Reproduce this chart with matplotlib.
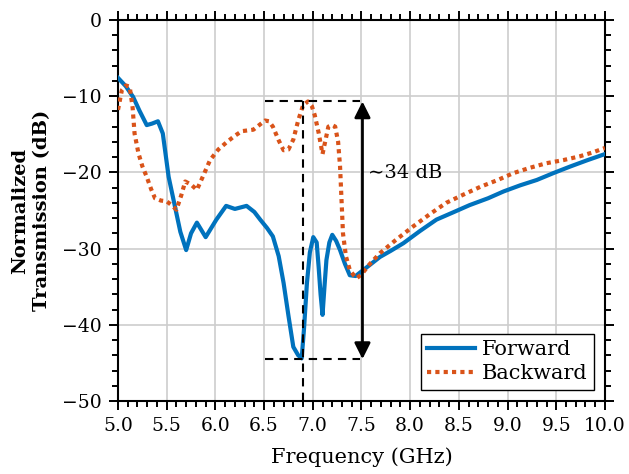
import numpy as np
import matplotlib
matplotlib.use("Agg")
import matplotlib.pyplot as plt
from matplotlib.ticker import MultipleLocator

# Forward transmission (GHz, dB)
fwd_f = [5.00, 5.08, 5.155, 5.22, 5.295, 5.35, 5.41, 5.46, 5.52, 5.585, 5.64, 5.70,
         5.75, 5.81, 5.90, 6.01, 6.11, 6.20, 6.32, 6.40, 6.46, 6.53, 6.59, 6.65, 6.70,
         6.75, 6.80, 6.85, 6.886, 6.91, 6.94, 6.97, 7.005, 7.04, 7.06, 7.08, 7.10, 7.12,
         7.14, 7.17, 7.20, 7.24, 7.28, 7.33, 7.38, 7.44, 7.52, 7.60, 7.69, 7.80, 7.93,
         8.10, 8.27, 8.45, 8.61, 8.80, 8.96, 9.13, 9.30, 9.47, 9.64, 9.82, 10.0]
fwd_db = [-7.6, -8.7, -10.1, -11.9, -13.8, -13.6, -13.3, -14.9, -20.6, -24.5, -27.8, -30.2,
          -28.0, -26.6, -28.5, -26.2, -24.4, -24.8, -24.4, -25.2, -26.2, -27.3, -28.4, -31.0, -34.5,
          -38.8, -42.9, -44.0, -44.4, -40.5, -34.5, -30.5, -28.5, -29.2, -32.4, -36.0, -38.7, -35.0,
          -31.5, -29.2, -28.2, -29.0, -30.2, -32.0, -33.5, -33.6, -32.8, -32.0, -31.1, -30.3, -29.3,
          -27.7, -26.2, -25.2, -24.3, -23.4, -22.5, -21.7, -21.0, -20.1, -19.25, -18.4, -17.6]

# Backward transmission (GHz, dB)
bwd_f = [5.00, 5.04, 5.08, 5.12, 5.15, 5.17, 5.21, 5.25, 5.295, 5.34, 5.38, 5.44, 5.50,
         5.55, 5.60, 5.65, 5.69, 5.75, 5.81, 5.88, 5.945, 6.03, 6.12, 6.20, 6.27, 6.39,
         6.45, 6.51, 6.55, 6.59, 6.65, 6.70, 6.75, 6.80, 6.85, 6.90, 6.95, 6.99, 7.02,
         7.06, 7.10, 7.13, 7.16, 7.20, 7.23, 7.26, 7.28, 7.31, 7.34, 7.38, 7.42, 7.45,
         7.50, 7.58, 7.69, 7.85, 8.03, 8.20, 8.37, 8.55, 8.72, 8.90, 9.06, 9.23, 9.40,
         9.57, 9.74, 9.87, 10.0]
bwd_db = [-11.8, -9.2, -8.6, -8.75, -11.5, -14.9, -17.5, -19.2, -20.6, -22.2, -23.4, -23.7, -23.8,
          -24.3, -24.9, -23.0, -21.2, -21.6, -22.3, -20.3, -18.4, -17.0, -16.0, -15.2, -14.6, -14.4,
          -13.8, -13.2, -13.3, -14.0, -15.8, -17.1, -17.0, -15.7, -13.2, -11.2, -10.7, -11.3, -12.5,
          -14.8, -17.6, -15.8, -14.0, -13.8, -14.0, -16.0, -19.25, -28.0, -31.0, -32.8, -33.5, -33.9,
          -33.4, -32.1, -30.6, -28.9, -27.1, -25.5, -24.0, -22.9, -21.9, -21.0, -20.1, -19.4, -18.8,
          -18.4, -17.9, -17.4, -16.8]

# annotation values
top_db = -10.7
bot_db = -44.5
box_f = [6.51, 7.48]
mark_f = 6.90
arrow_f = 7.51

plt.rcParams['font.family'] = ['DejaVu Serif']

fig = plt.figure(figsize=(6.29, 4.74), dpi=100)
ax = fig.add_axes([0.1876, 0.154, 0.7742, 0.804])

ax.plot(fwd_f, fwd_db, color='#0072BD', lw=3, label='Forward', zorder=3)
ax.plot(bwd_f, bwd_db, color='#D95319', lw=3, ls=(0, (1, 1)), dash_capstyle='butt',
        label='Backward', zorder=3)

# dashed guide lines
ax.plot(box_f, [top_db, top_db], color='k', lw=1.5, ls=(0, (4, 3)), zorder=4)
ax.plot(box_f, [bot_db, bot_db], color='k', lw=1.5, ls=(0, (4, 3)), zorder=4)
ax.plot([mark_f, mark_f], [top_db, -50], color='k', lw=1.5, ls=(0, (4, 3)), zorder=4)

ax.annotate('', xy=(arrow_f, top_db), xytext=(arrow_f, bot_db),
            arrowprops=dict(arrowstyle='<|-|>', color='k', lw=2, mutation_scale=24,
                            shrinkA=0, shrinkB=0), zorder=5)
ax.text(7.57, -20.1, '\u223c34 dB', fontsize=14, va='center', ha='left')

ax.set_xlim(5, 10)
ax.set_ylim(-50, 0)
ax.xaxis.set_major_locator(MultipleLocator(0.5))
ax.xaxis.set_minor_locator(MultipleLocator(0.1))
ax.yaxis.set_major_locator(MultipleLocator(10))
ax.yaxis.set_minor_locator(MultipleLocator(2))
ax.xaxis.set_major_formatter(plt.FuncFormatter(lambda v, p: f'{v:.1f}'))
ax.yaxis.set_major_formatter(plt.FuncFormatter(lambda v, p: f'{v:.0f}'.replace('-', '\u2212')))

ax.tick_params(which='both', direction='out', top=True, right=True, width=1.4,
               labelsize=13.5)
ax.tick_params(which='major', length=6.5, pad=5)
ax.tick_params(which='minor', length=4.3)
for s in ax.spines.values():
    s.set_linewidth(1.5)

ax.grid(True, which='major', color='#cdcdcd', lw=1.2)
ax.set_axisbelow(True)

ax.set_xlabel('Frequency (GHz)', fontsize=15, labelpad=9)
ax.set_ylabel('Normalized\nTransmission (dB)', fontsize=14, fontweight='bold',
              linespacing=1.25)
ax.yaxis.set_label_coords(-0.138, 0.5)

leg = ax.legend(loc='lower right', fontsize=15, fancybox=False, framealpha=1,
                edgecolor='k', handlelength=2.3, borderaxespad=0.55,
                borderpad=0.3, labelspacing=0.25, handletextpad=0.3)
leg.get_frame().set_linewidth(1.0)

fig.savefig('out.png', dpi=100)
